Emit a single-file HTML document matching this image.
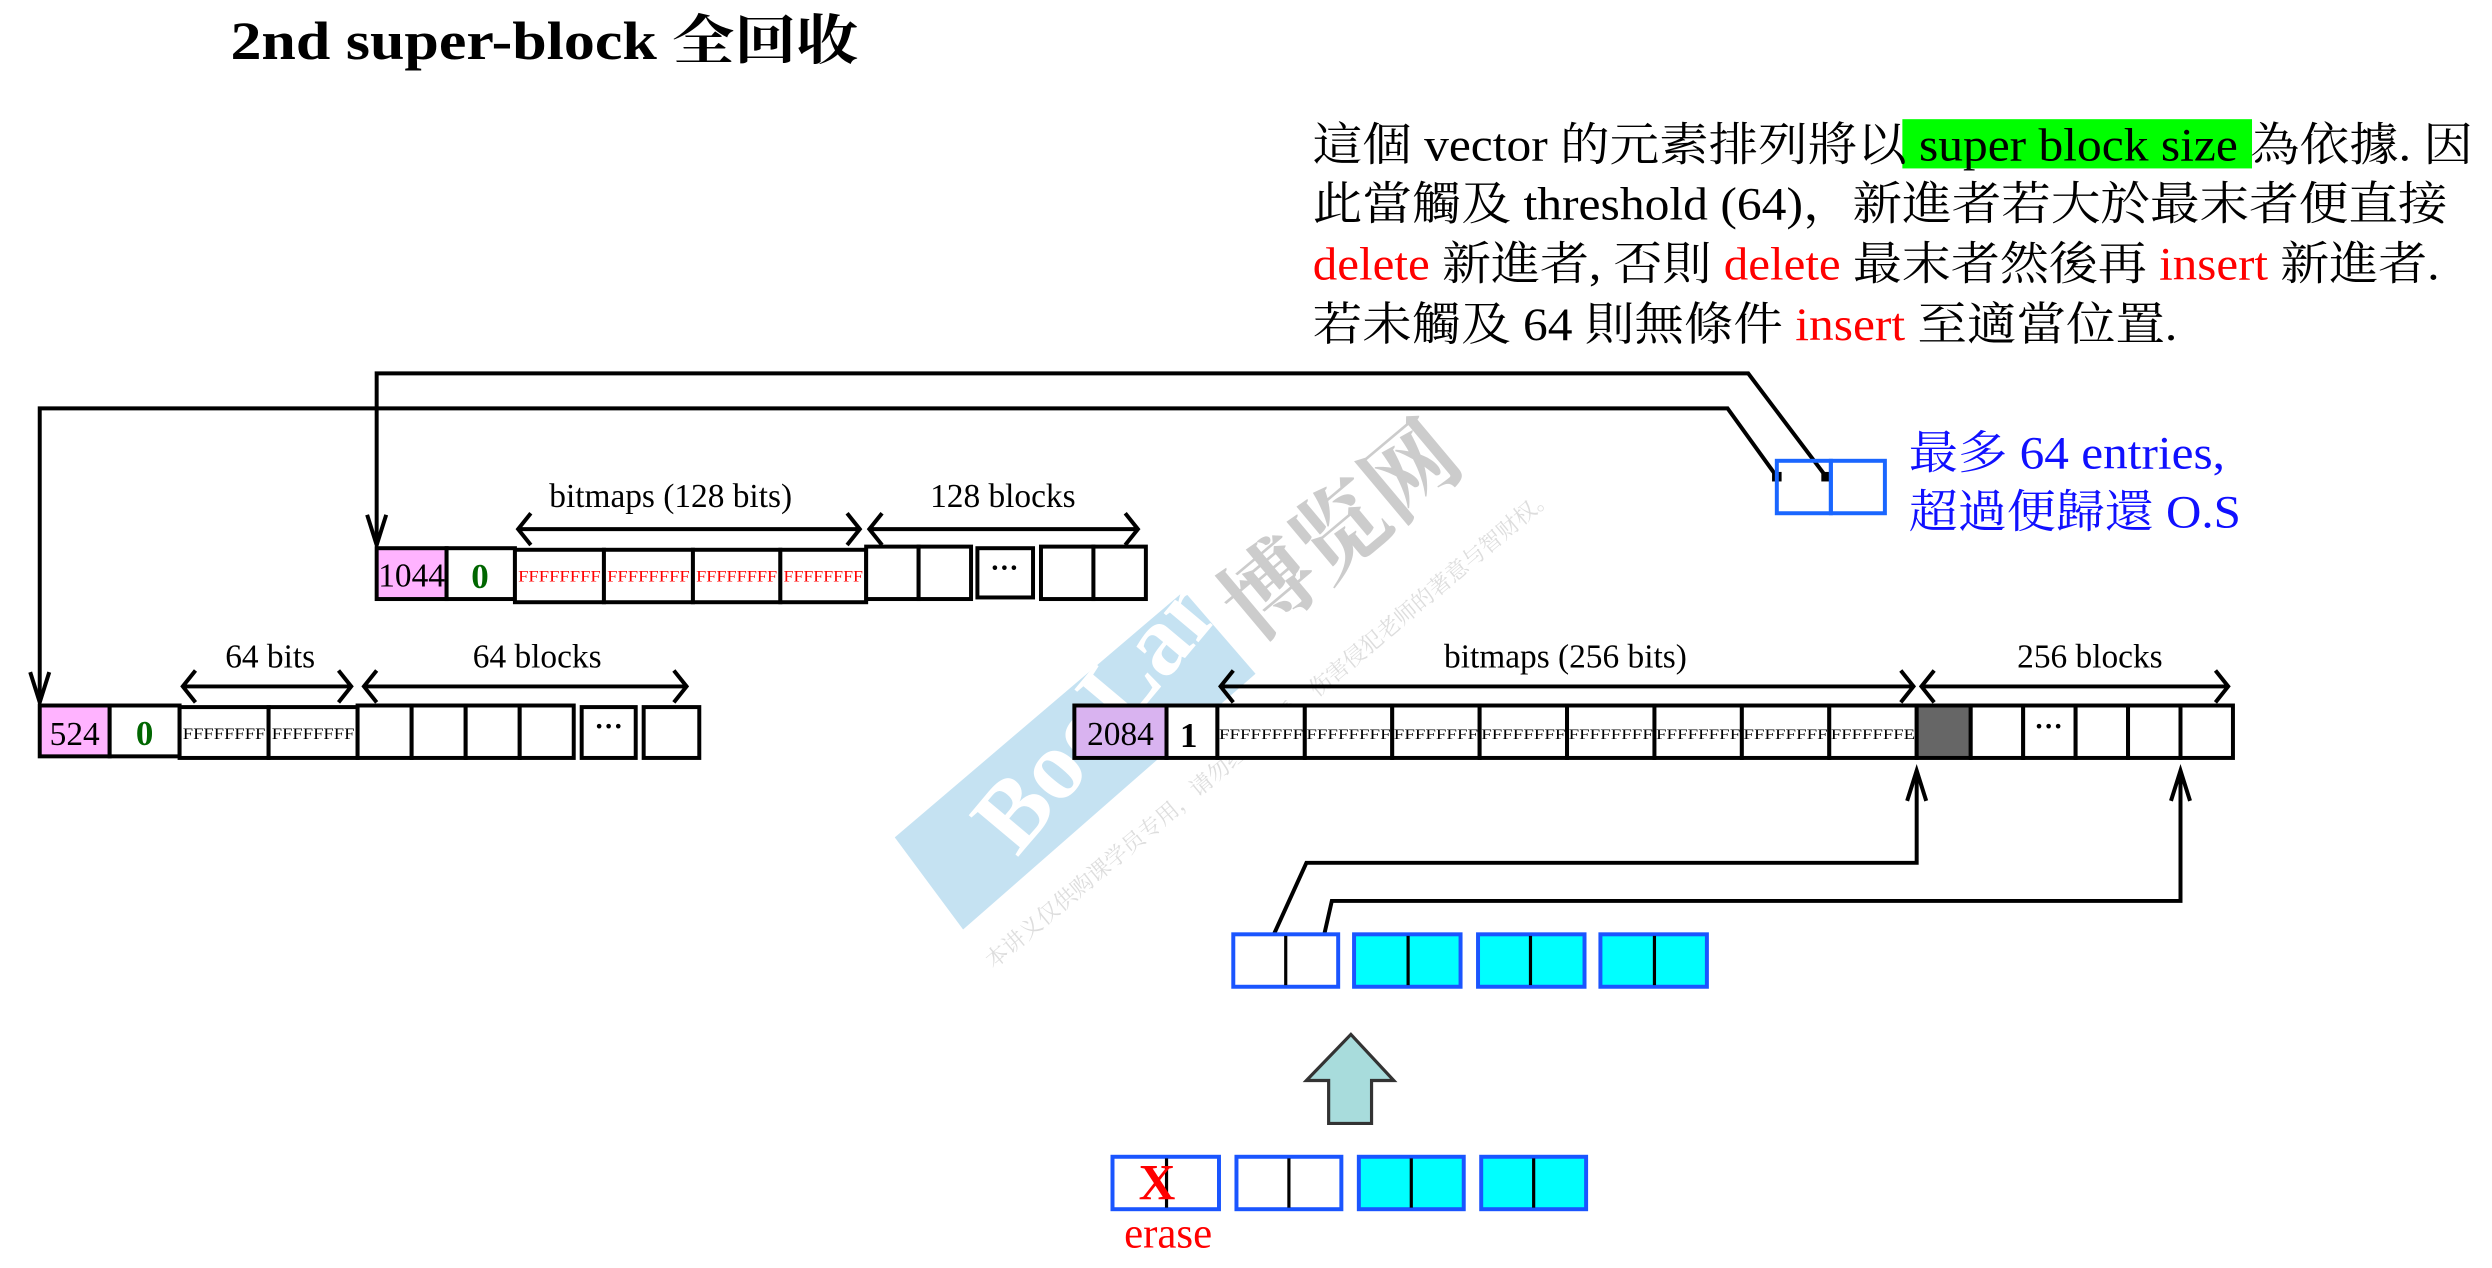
<!DOCTYPE html>
<html><head><meta charset="utf-8"><style>
html,body{margin:0;padding:0;background:#fff}
svg{display:block}
text{font-family:"Liberation Serif","Noto Serif CJK SC",serif}
</style></head><body>
<svg width="2492" height="1268" viewBox="0 0 1568 798" preserveAspectRatio="none" xmlns="http://www.w3.org/2000/svg">
<!-- watermark -->
<polygon points="563,527 745,372 790,424 606,585" fill="#c5e2f2"/>
<text x="0" y="0" transform="translate(640,540) rotate(-50)" font-size="62" font-weight="bold" fill="#fff" font-family="Liberation Sans,sans-serif">BooLan</text>
<text x="0" y="0" transform="translate(790,405) rotate(-40)" font-size="58" font-weight="bold" fill="#ccc" font-family="Noto Sans CJK SC,sans-serif">博览网</text>
<text x="0" y="0" transform="translate(625,610) rotate(-40)" font-size="14" fill="#ddd" font-family="Noto Sans CJK SC,sans-serif">本讲义仅供购课学员专用，请勿经上传播，伤害侵犯老师的著意与智财权。</text>

<!-- title -->
<text x="145" y="37" font-size="34" font-weight="bold" textLength="395" lengthAdjust="spacingAndGlyphs">2nd super-block 全回收</text>

<!-- paragraph -->
<rect x="1197" y="75" width="220" height="31" fill="#00ff00"/>
<g font-size="29" fill="#000">
<text x="826" y="101" textLength="730" lengthAdjust="spacingAndGlyphs">這個 vector 的元素排列將以 super block size 為依據. 因</text>
<text x="826" y="138" textLength="714" lengthAdjust="spacingAndGlyphs">此當觸及 threshold (64)，新進者若大於最末者便直接</text>
<text x="826" y="176" textLength="709" lengthAdjust="spacingAndGlyphs"><tspan fill="#f00">delete</tspan> 新進者, 否則 <tspan fill="#f00">delete</tspan> 最末者然後再 <tspan fill="#f00">insert</tspan> 新進者.</text>
<text x="826" y="214" textLength="544" lengthAdjust="spacingAndGlyphs">若未觸及 64 則無條件 <tspan fill="#f00">insert</tspan> 至適當位置.</text>
</g>
<g font-size="29" fill="#1010ff">
<text x="1201" y="295" textLength="199" lengthAdjust="spacingAndGlyphs">最多 64 entries,</text>
<text x="1201" y="332" textLength="209" lengthAdjust="spacingAndGlyphs">超過便歸還 O.S</text>
</g>

<g stroke="#000" stroke-width="2.5" fill="none">
<!-- connectors top -->
<path d="M237,343 V235 H1100 L1149,300"/>
<path d="M25,442 V257 H1087 L1118,300"/>
<path d="M231,324 L237,343 L243,324"/>
<path d="M19,423 L25,442 L31,423"/>
<!-- bottom connectors -->
<path d="M797,598 L822,543 H1206 V485"/>
<path d="M831,598 L838,567 H1372 V485"/>
<path d="M1200,504 L1206,485 L1212,504"/>
<path d="M1366,504 L1372,485 L1378,504"/>
<!-- double arrows -->
<path d="M326,333 H541 M334,323 L326,333 L334,343 M533,323 L541,333 L533,343"/>
<path d="M547,333 H716 M555,323 L547,333 L555,343 M708,323 L716,333 L708,343"/>
<path d="M115,432 H221 M123,422 L115,432 L123,442 M213,422 L221,432 L213,442"/>
<path d="M229,432 H432 M237,422 L229,432 L237,442 M424,422 L432,432 L424,442"/>
<path d="M768,432 H1204 M776,422 L768,432 L776,442 M1196,422 L1204,432 L1196,442"/>
<path d="M1209,432 H1402 M1217,422 L1209,432 L1217,442 M1394,422 L1402,432 L1394,442"/>
</g>
<g fill="#000">
<rect x="1115" y="297" width="6" height="6"/><rect x="1146" y="297" width="6" height="6"/>
<rect x="794" y="595" width="6" height="6"/><rect x="828" y="595" width="6" height="6"/>
</g>

<!-- labels -->
<g font-size="21" text-anchor="middle">
<text x="422" y="319">bitmaps (128 bits)</text>
<text x="631" y="319">128 blocks</text>
<text x="170" y="420">64 bits</text>
<text x="338" y="420">64 blocks</text>
<text x="985" y="420">bitmaps (256 bits)</text>
<text x="1315" y="420">256 blocks</text>
</g>

<!-- row A -->
<g stroke="#000" stroke-width="2.5">
<rect x="237" y="345" width="44" height="32" fill="#ffb3ff"/>
<rect x="281" y="345" width="43" height="32" fill="#fff"/>
<rect x="324" y="346" width="56" height="33" fill="#fff"/>
<rect x="380" y="346" width="56" height="33" fill="#fff"/>
<rect x="436" y="346" width="55" height="33" fill="#fff"/>
<rect x="491" y="346" width="54" height="33" fill="#fff"/>
<rect x="545" y="344" width="33" height="33" fill="#fff"/>
<rect x="578" y="344" width="33" height="33" fill="#fff"/>
<rect x="615" y="345" width="35" height="31" fill="#fff"/>
<rect x="655" y="344" width="33" height="33" fill="#fff"/>
<rect x="688" y="344" width="33" height="33" fill="#fff"/>
</g>
<text x="259" y="369" font-size="21" text-anchor="middle" textLength="42" lengthAdjust="spacingAndGlyphs">1044</text>
<text x="302" y="370" font-size="22" font-weight="bold" fill="#006600" text-anchor="middle">0</text>
<g font-size="10" fill="#f00">
<text x="326" y="366" textLength="52" lengthAdjust="spacingAndGlyphs">FFFFFFFF</text>
<text x="382" y="366" textLength="52" lengthAdjust="spacingAndGlyphs">FFFFFFFF</text>
<text x="438" y="366" textLength="51" lengthAdjust="spacingAndGlyphs">FFFFFFFF</text>
<text x="493" y="366" textLength="50" lengthAdjust="spacingAndGlyphs">FFFFFFFF</text>
</g>
<text x="632" y="363" font-size="18" font-weight="bold" text-anchor="middle">···</text>

<!-- row B -->
<g stroke="#000" stroke-width="2.5">
<rect x="25" y="444" width="44" height="32" fill="#ffb3ff"/>
<rect x="69" y="444" width="44" height="32" fill="#fff"/>
<rect x="113" y="445" width="56" height="32" fill="#fff"/>
<rect x="169" y="445" width="56" height="32" fill="#fff"/>
<rect x="225" y="444" width="34" height="33" fill="#fff"/>
<rect x="259" y="444" width="34" height="33" fill="#fff"/>
<rect x="293" y="444" width="34" height="33" fill="#fff"/>
<rect x="327" y="444" width="34" height="33" fill="#fff"/>
<rect x="366" y="445" width="34" height="32" fill="#fff"/>
<rect x="405" y="445" width="35" height="32" fill="#fff"/>
</g>
<text x="47" y="469" font-size="21" text-anchor="middle">524</text>
<text x="91" y="469" font-size="22" font-weight="bold" fill="#006600" text-anchor="middle">0</text>
<g font-size="10" fill="#000">
<text x="115" y="465" textLength="52" lengthAdjust="spacingAndGlyphs">FFFFFFFF</text>
<text x="171" y="465" textLength="52" lengthAdjust="spacingAndGlyphs">FFFFFFFF</text>
</g>
<text x="383" y="463" font-size="18" font-weight="bold" text-anchor="middle">···</text>

<!-- row C -->
<g stroke="#000" stroke-width="2.5">
<rect x="676" y="444" width="58" height="33" fill="#d9b3f0"/>
<rect x="734" y="444" width="32" height="33" fill="#fff"/>
<rect x="766" y="444" width="55" height="33" fill="#fff"/>
<rect x="821" y="444" width="55" height="33" fill="#fff"/>
<rect x="876" y="444" width="55" height="33" fill="#fff"/>
<rect x="931" y="444" width="55" height="33" fill="#fff"/>
<rect x="986" y="444" width="55" height="33" fill="#fff"/>
<rect x="1041" y="444" width="55" height="33" fill="#fff"/>
<rect x="1096" y="444" width="55" height="33" fill="#fff"/>
<rect x="1151" y="444" width="55" height="33" fill="#fff"/>
<rect x="1206" y="444" width="34" height="33" fill="#666"/>
<rect x="1240" y="444" width="33" height="33" fill="#fff"/>
<rect x="1273" y="444" width="33" height="33" fill="#fff"/>
<rect x="1306" y="444" width="33" height="33" fill="#fff"/>
<rect x="1339" y="444" width="33" height="33" fill="#fff"/>
<rect x="1372" y="444" width="33" height="33" fill="#fff"/>
</g>
<text x="705" y="469" font-size="21" text-anchor="middle">2084</text>
<text x="748" y="470" font-size="22" font-weight="bold" text-anchor="middle">1</text>
<g font-size="9.5" fill="#000">
<text x="767" y="465" textLength="53" lengthAdjust="spacingAndGlyphs">FFFFFFFF</text>
<text x="822" y="465" textLength="53" lengthAdjust="spacingAndGlyphs">FFFFFFFF</text>
<text x="877" y="465" textLength="53" lengthAdjust="spacingAndGlyphs">FFFFFFFF</text>
<text x="932" y="465" textLength="53" lengthAdjust="spacingAndGlyphs">FFFFFFFF</text>
<text x="987" y="465" textLength="53" lengthAdjust="spacingAndGlyphs">FFFFFFFF</text>
<text x="1042" y="465" textLength="53" lengthAdjust="spacingAndGlyphs">FFFFFFFF</text>
<text x="1097" y="465" textLength="53" lengthAdjust="spacingAndGlyphs">FFFFFFFF</text>
<text x="1152" y="465" textLength="53" lengthAdjust="spacingAndGlyphs">FFFFFFFE</text>
</g>
<text x="1289" y="463" font-size="18" font-weight="bold" text-anchor="middle">···</text>

<!-- entries box top right -->
<g stroke="#1a66ff" stroke-width="2.5" fill="#fff">
<rect x="1118" y="290" width="34" height="33" fill="none"/>
<rect x="1152" y="290" width="34" height="33" fill="none"/>
</g>

<!-- bottom rows -->
<g stroke="#1a55ff" stroke-width="2.5">
<rect x="776" y="588" width="66" height="33" fill="#fff"/>
<rect x="852" y="588" width="67" height="33" fill="#00ffff"/>
<rect x="930" y="588" width="67" height="33" fill="#00ffff"/>
<rect x="1007" y="588" width="67" height="33" fill="#00ffff"/>
<rect x="700" y="728" width="67" height="33" fill="#fff"/>
<rect x="778" y="728" width="66" height="33" fill="#fff"/>
<rect x="855" y="728" width="66" height="33" fill="#00ffff"/>
<rect x="932" y="728" width="66" height="33" fill="#00ffff"/>
</g>
<g stroke="#000" stroke-width="2">
<path d="M809,589 V620 M886,589 V620 M963,589 V620 M1041,589 V620"/>
<path d="M734,729 V760 M811,729 V760 M888,729 V760 M965,729 V760"/>
</g>
<text x="728" y="755" font-size="32" font-weight="bold" fill="#f00" text-anchor="middle" font-family="Liberation Sans,sans-serif">X</text>
<text x="735" y="785" font-size="27" fill="#f00" text-anchor="middle">erase</text>

<!-- big arrow -->
<polygon points="822,680 850,651 877,680 863,680 863,707 836,707 836,680" fill="#a8dcdc" stroke="#333" stroke-width="2"/>
</svg>
</body></html>
